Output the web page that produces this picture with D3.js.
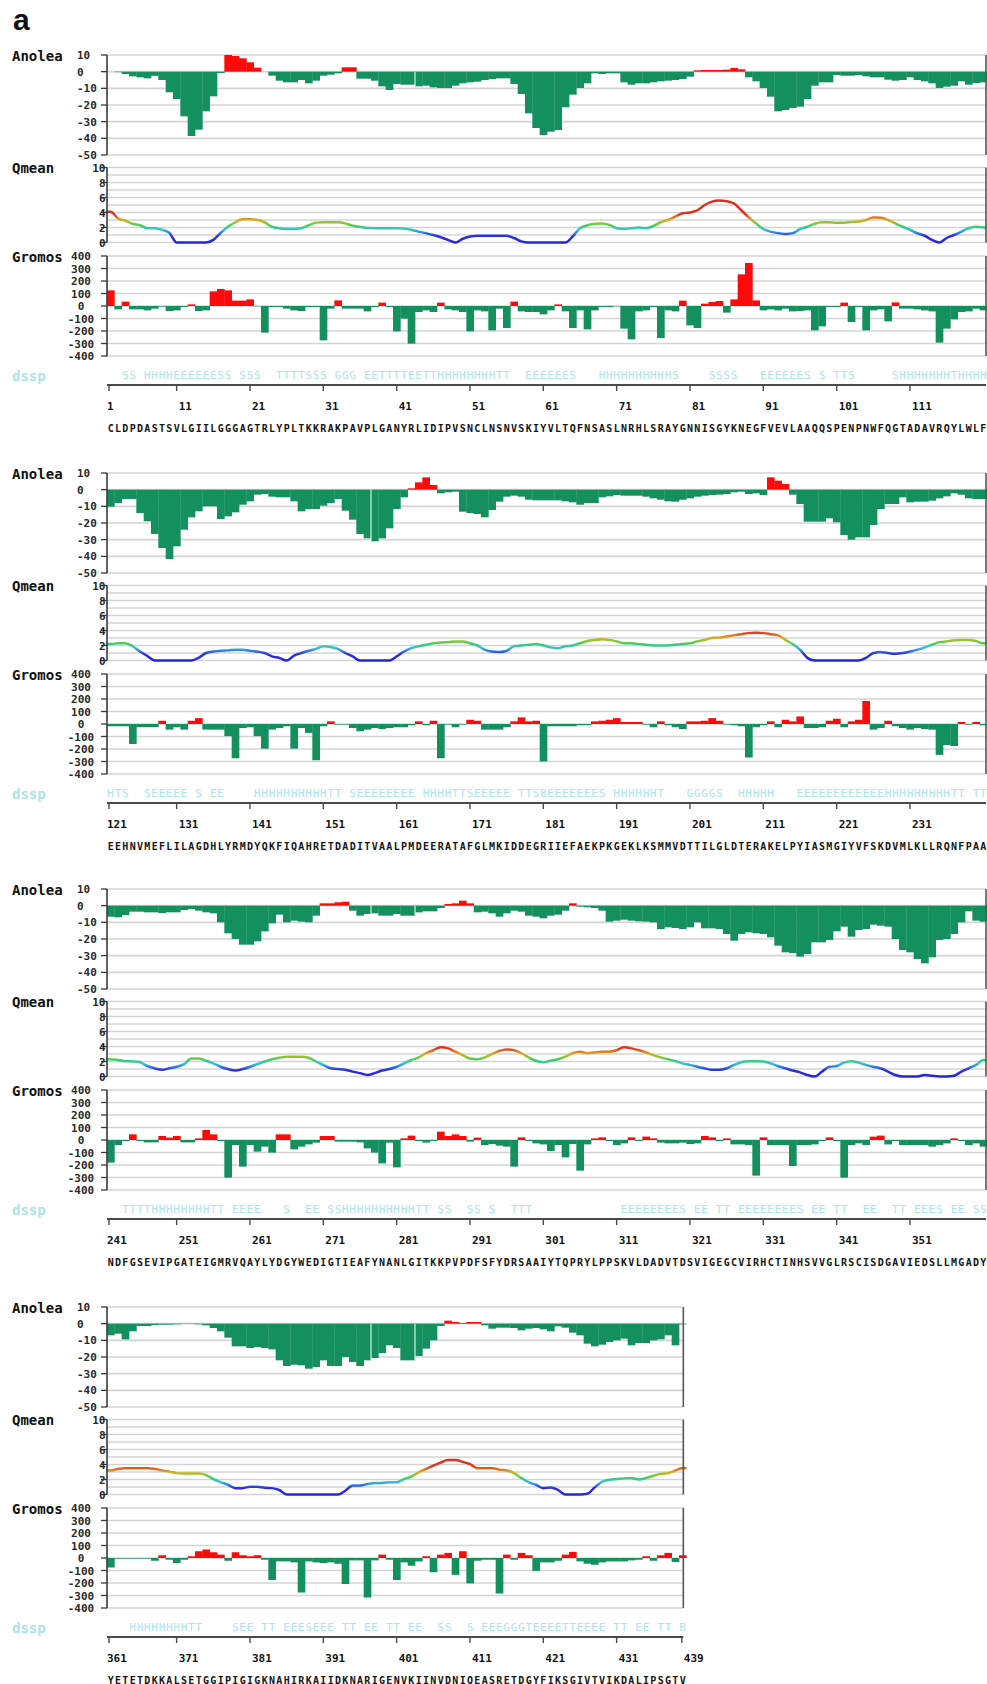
<!DOCTYPE html>
<html><head><meta charset="utf-8">
<script src="https://cdn.jsdelivr.net/npm/d3@7/dist/d3.min.js"></script>
<style>body{margin:0;background:#fff}svg{display:block}</style>
</head><body>
<svg id="c" width="987" height="1684"></svg>
<script>
// ---------------- DATA ----------------
const sequenceRows = [
  "CLDPDASTSVLGIILGGGAGTRLYPLTKKRAKPAVPLGANYRLIDIPVSNCLNSNVSKIYVLTQFNSASLNRHLSRAYGNNISGYKNEGFVEVLAAQQSPENPNWFQGTADAVRQYLWLF",
  "EEHNVMEFLILAGDHLYRMDYQKFIQAHRETDADITVAALPMDEERATAFGLMKIDDEGRIIEFAEKPKGEKLKSMMVDTTILGLDTERAKELPYIASMGIYVFSKDVMLKLLRQNFPAA",
  "NDFGSEVIPGATEIGMRVQAYLYDGYWEDIGTIEAFYNANLGITKKPVPDFSFYDRSAAIYTQPRYLPPSKVLDADVTDSVIGEGCVIRHCTINHSVVGLRSCISDGAVIEDSLLMGADY",
  "YETETDKKALSETGGIPIGIGKNAHIRKAIIDKNARIGENVKIINVDNIQEASRETDGYFIKSGIVTVIKDALIPSGTV"
];
const firstResidue = [1, 121, 241, 361];

// Anolea energy per residue (1-439)
const anolea = [
  // 1-120
  0,-0.3,-1.4,-2.8,-3.4,-4,-2.5,-5,-12.4,-16.4,
  -26.8,-38.6,-34.8,-23.8,-14.8,-0.8,10,9.4,8,5.6,
  2.4,0,-2.4,-5.4,-6.4,-6.4,-5,-7,-5.4,-2.4,
  -1.8,-1,2.6,2.6,-4.2,-4.2,-5.4,-8.8,-11,-7.4,
  -7.8,-7.8,-8.8,-8.4,-9.4,-9.8,-9.8,-8.4,-7,-6.4,
  -6,-5,-4.4,-4,-4,-7.4,-13.4,-25,-33.8,-38,
  -36,-35,-21.4,-13.8,-9.8,-7,-1,-1.4,-1,-1,
  -6.4,-7.8,-7,-7,-6.4,-5.8,-5.4,-5,-4.4,-3,
  0.8,1,1,1,1.2,2.2,1.4,-3.4,-5.8,-9.8,
  -15,-23.8,-23,-21.8,-21,-16.4,-8.4,-6.4,-6.4,-2,
  -2.4,-2.4,-2,-2.8,-3.4,-3.4,-4.8,-5.4,-5,-3.4,
  -5,-5.8,-7,-9.8,-9,-8.4,-5.8,-7.8,-6.8,-6.4,
  // 121-240
  -10.2,-8,-5.6,-5.6,-14,-19,-26.6,-35,-41.6,-34,
  -24,-16.6,-13,-10,-10,-17.6,-16,-13.6,-9,-7,
  -3,-2.6,-4.2,-4.6,-4.6,-7,-13,-11.6,-11.6,-9.6,
  -8,-5.6,-12.6,-18,-26.6,-29.2,-31,-29.2,-23.2,-11.6,
  -4.6,0.8,4.4,7.4,2.8,-2.2,-1.6,-1.2,-13.2,-14,
  -14.6,-16.6,-12.2,-7.2,-4.2,-3.6,-4.2,-6,-6.4,-6.4,
  -6.4,-6.4,-7,-7.6,-9,-8,-8,-4.6,-4,-3.2,
  -3.6,-3.6,-3.6,-4.2,-5.2,-6,-7,-7.2,-6,-5.2,
  -4.2,-3.6,-3.2,-3,-2.6,-1.6,-1.2,-2.6,-2.2,-3.2,
  7.4,5.4,3.4,-3,-8.6,-19.2,-19.2,-19.2,-17.2,-19.6,
  -27.2,-30,-28.6,-28.6,-21.2,-11.6,-8.6,-8.6,-4.6,-7.6,
  -7.2,-7.2,-6.6,-5.2,-4,-2.2,-3,-5.2,-5.6,-5.6,
  // 241-360
  -6.6,-7,-5.6,-3.6,-3.6,-4,-4,-4.4,-4,-4,
  -2.6,-2,-3,-4,-4.6,-10,-16.6,-20,-23.4,-23.4,
  -21.4,-15.4,-10.6,-5.4,-10,-9,-9.6,-10,-6,1.4,
  1.4,2,2.4,-3,-6,-5,-4.6,-6,-6,-5,
  -6,-6,-4,-3.4,-3.4,-1.4,1,1.4,3,1.4,
  -4,-3.6,-4.6,-6.6,-4.6,-3,-3.6,-6,-6.6,-7.6,
  -6,-5.4,-3,1.4,-0.6,-1,-1.4,-3,-9.6,-9,
  -8.4,-9,-9.4,-9.6,-10,-14,-13,-13.4,-14,-13,
  -10,-13.6,-13.6,-14,-17,-21,-17,-16,-16.6,-17,
  -19,-24,-28,-28.4,-30.6,-29,-22,-22,-20.6,-15.4,
  -12.6,-18.6,-14.6,-14,-11.4,-12,-12.6,-20,-26.6,-28,
  -32,-34.6,-31,-20.6,-20,-17,-10,-3.4,-9,-9.6,
  // 361-439
  -7,-6,-9.4,-4.6,-1.4,-1.4,-0.8,-0.6,-0.6,-0.4,
  -0.2,-0.2,-0.4,-1,-2.6,-4.6,-8.4,-13.6,-13.6,-14.6,
  -14,-14.6,-15.4,-22,-25.4,-24.6,-25,-27,-26,-22,
  -25.4,-25.4,-20,-23,-25.4,-22,-20.6,-17.6,-13,-14.6,
  -22,-22,-19.4,-15,-10,-1.4,1.8,1,0.4,1,
  1,-1,-3,-2.4,-2.4,-2.6,-4,-3,-2.6,-3.4,
  -4.6,-1.6,-2.4,-5.4,-7,-12,-13.6,-12.6,-11,-10,
  -9,-13,-11.6,-11.6,-10,-9.4,-7,-13,-0.4
];

// Qmean local score per residue (1-439)
const qmean = [
  // 1-120
  4.1,3.2,2.9,2.5,2.3,1.9,1.9,1.7,1.3,0,
  0,0,0,0,0.35,1.3,2.1,2.7,3.1,3.1,
  3.0,2.7,2.1,1.9,1.8,1.8,1.9,2.3,2.65,2.7,
  2.7,2.7,2.55,2.25,2.1,1.95,1.9,1.9,1.9,1.9,
  1.85,1.7,1.45,1.25,1.0,0.7,0.35,0,0.5,0.8,
  0.9,0.9,0.9,0.9,0.9,0.6,0.15,0,0,0,
  0,0,0,0.8,1.9,2.3,2.5,2.55,2.35,1.9,
  1.8,1.9,2.0,1.9,2.2,2.7,3.0,3.45,3.9,4.0,
  4.3,5.0,5.45,5.6,5.5,5.2,4.3,3.35,2.55,1.8,
  1.45,1.25,1.15,1.25,1.8,2.1,2.5,2.7,2.7,2.65,
  2.65,2.75,2.8,3.0,3.35,3.3,3.0,2.55,2.1,1.7,
  1.25,0.9,0.35,0,0.6,1.0,1.45,1.9,2.1,2.0,
  // 121-240
  2.2,2.3,2.3,1.9,1.2,0.6,0,0,0,0,
  0,0,0.35,1.0,1.2,1.3,1.35,1.45,1.45,1.3,
  1.2,1.0,0.55,0.35,0,0.65,1.0,1.3,1.55,1.9,
  1.8,1.55,1.0,0.55,0,0,0,0,0,0.55,
  1.2,1.65,1.9,2.1,2.3,2.4,2.45,2.55,2.55,2.3,
  2.0,1.45,1.2,1.15,1.3,1.9,2.0,2.1,2.2,2.0,
  1.75,1.65,1.9,2.0,2.3,2.6,2.75,2.85,2.75,2.55,
  2.3,2.3,2.2,2.1,2.0,2.0,2.0,2.1,2.2,2.3,
  2.55,2.75,3.0,3.05,3.2,3.35,3.5,3.65,3.7,3.65,
  3.5,3.35,2.75,2.2,1.45,0.35,0,0,0,0,
  0,0,0,0.35,1.0,1.15,1.0,0.9,1.0,1.2,
  1.45,1.75,2.1,2.45,2.55,2.7,2.75,2.75,2.6,2.3,
  // 241-360
  2.3,2.2,2.05,2.0,1.9,1.4,1.1,0.9,1.1,1.3,
  1.65,2.4,2.4,2.1,1.75,1.3,1.0,0.8,1.0,1.3,
  1.65,2.0,2.3,2.5,2.65,2.65,2.65,2.5,2.0,1.55,
  1.1,1.0,0.9,0.65,0.45,0.2,0.45,0.8,1.0,1.3,
  1.75,2.2,2.55,3.1,3.5,3.9,3.75,3.3,2.85,2.4,
  2.3,2.55,3.0,3.4,3.6,3.5,3.1,2.55,2.1,1.9,
  2.1,2.3,2.65,3.1,3.3,3.1,3.2,3.3,3.3,3.5,
  3.9,3.75,3.5,3.2,2.85,2.55,2.3,2.05,1.75,1.55,
  1.3,1.1,0.9,0.9,1.1,1.55,1.9,2.05,2.05,2.0,
  1.75,1.4,1.1,0.8,0.55,0.2,0,0.65,1.3,1.4,
  1.85,2.05,1.85,1.55,1.3,1.1,0.65,0.2,0,0,
  0,0.2,0.1,0,0,0.1,0.65,1.1,1.55,2.2,
  // 361-439
  3.2,3.4,3.5,3.5,3.5,3.5,3.4,3.2,3.05,2.85,
  2.8,2.8,2.8,2.6,2.05,1.65,1.3,0.85,0.85,1.05,
  1.05,0.9,0.85,0.6,0,0,0,0,0,0,
  0,0,0.5,1.2,1.2,1.4,1.55,1.55,1.65,1.65,
  2.05,2.4,2.95,3.4,3.85,4.25,4.6,4.6,4.35,4.05,
  3.5,3.5,3.5,3.3,3.2,2.85,2.2,1.65,1.3,0.85,
  0.95,0.6,0,0,0,0.1,0.95,1.7,1.95,2.05,
  2.15,2.2,2.0,2.2,2.5,2.75,2.85,3.2,3.5
];

// Gromos energy per residue (1-439)
const gromos = [
  // 1-120
  125,-27,35,-27,-27,-35,-21,-5,-40,-35,
  -8,13,-40,-35,117,136,125,43,43,53,
  -3,-213,-8,-8,-21,-35,-40,-8,-8,-275,
  -21,45,-21,-21,-21,-43,-8,27,-8,-203,
  -101,-301,-48,-35,-48,27,-27,-35,-48,-203,
  -35,-43,-195,-21,-176,35,-43,-48,-48,-67,
  -35,13,-43,-176,-35,-187,-35,-8,-8,-3,
  -181,-267,-43,-35,-8,-256,-35,-43,43,-155,
  -176,19,32,40,-53,53,253,344,45,-35,
  -27,-35,-21,-43,-40,-35,-195,-163,-8,-8,
  27,-128,-8,-195,-35,-27,-123,29,-21,-21,
  -27,-35,-43,-293,-181,-107,-48,-43,-21,-35,
  // 121-240
  -18,-18,-18,-160,-25,-25,-25,26,-45,-26,
  -45,26,47,-45,-45,-45,-97,-274,-32,-26,
  -97,-197,-45,-32,-18,-197,-32,-71,-290,-18,
  21,-5,-5,-32,-58,-45,-32,-40,-32,-26,
  -26,-10,21,-10,26,-274,-5,-26,-5,34,
  26,-45,-45,-45,-26,21,53,21,26,-300,
  -18,-18,-18,-18,-10,-10,21,26,34,47,
  16,16,16,-5,-26,21,-10,-26,-40,21,
  21,26,47,26,-5,-10,-18,-268,-26,-10,
  21,-26,34,21,60,-32,-32,-26,26,42,
  -26,21,34,184,-45,-32,26,-18,-32,-45,
  -32,-40,-45,-247,-168,-176,16,-5,16,-10,
  // 241-360
  -181,-40,-8,45,-8,-19,-19,32,19,32,
  -19,-19,13,80,45,-8,-301,-40,-213,-40,
  -93,-53,-101,45,45,-75,-53,-35,-21,32,
  32,-13,-13,-13,-19,-67,-101,-187,-21,-219,
  13,35,-8,-21,-8,67,32,45,32,-13,
  19,-40,-32,-45,-53,-213,21,-8,-27,-35,
  -88,-40,-139,-32,-245,-35,13,21,-8,-40,
  -27,21,-8,27,13,-21,-27,-27,-21,-32,
  -27,32,21,-8,13,-35,-35,-40,-285,21,
  -40,-40,-40,-208,-40,-40,-35,-8,21,-8,
  -301,-40,-27,-40,27,35,-35,-8,-40,-40,
  -40,-40,-53,-40,-27,13,-8,-40,-27,-53,
  // 361-439
  -76,-5,-5,-5,-5,-5,-22,22,-14,-40,
  -14,14,54,68,46,27,-22,46,22,14,
  22,-14,-176,-27,-27,-35,-276,-27,-35,-40,
  -35,-46,-208,-19,-19,-316,-19,27,-14,-176,
  -35,-62,-27,14,-114,27,41,-135,54,-203,
  -22,-14,-14,-284,27,-14,41,22,-103,-35,
  -35,-22,27,49,-27,-46,-54,-35,-27,-27,
  -27,-19,-14,14,-22,22,41,-32,22
];

// DSSP secondary structure: [first residue, characters]
const dsspSegments = [
  [3,"SS"],[6,"HHHHEEEEEESS"],[19,"SSS"],[24,"TTTTSSS"],[32,"GGG"],[36,"EETTTTEETT"],
  [46,"HHHHHHHHTT"],[58,"EEEEEES"],[68,"HHHHHHHHHHS"],[83,"SSSS"],[90,"EEEEEES"],[98,"S"],
  [100,"TTS"],[108,"SHHHHHHHTHHHH"],
  [121,"HTS"],[126,"SEEEEE"],[133,"S"],[135,"EE"],[141,"HHHHHHHHHHTT"],[154,"SEEEEEEEE"],
  [164,"HHHHTTSEEEEE"],[177,"TTSBEEEEEEES"],[190,"HHHHHHT"],[200,"GGGGS"],[207,"HHHHH"],
  [215,"EEEEEEEEEEEEHHHHHHHHHTT"],[239,"TT"],
  [243,"TTTTHHHHHHHHTT"],[258,"EEEE"],[265,"S"],[268,"EE"],[271,"SSHHHHHHHHHHTT"],[286,"SS"],
  [290,"SS"],[293,"S"],[296,"TTT"],[311,"EEEEEEEES"],[321,"EE"],[324,"TT"],[327,"EEEEEEEES"],
  [337,"EE"],[340,"TT"],[344,"EE"],[348,"TT"],[351,"EEES"],[356,"EE"],[359,"SS"],
  [364,"HHHHHHHHTT"],[378,"SEE"],[382,"TT"],[385,"EEESEEE"],[393,"TT"],[396,"EE"],[399,"TT"],
  [402,"EE"],[406,"SS"],[410,"S"],[412,"EEEGGGTEEEETTEEEE"],[430,"TT"],[433,"EE"],[436,"TT"],[439,"B"]
];

// residues after which the anolea bars show a thin white break
const anoleaBreaks = [42, 156, 276, 282, 396, 402];

const anoleaTicks = [10, 0, -10, -20, -30, -40, -50];
const qmeanTicks = [10, 8, 6, 4, 2, 0];
const qmeanGrid = [10, 9, 8, 7, 6, 5, 4, 3, 2, 1, 0];
const gromosTicks = [400, 300, 200, 100, 0, -100, -200, -300, -400];
const rowLabels = ["Anolea", "Qmean", "Gromos", "dssp"];
const panelLetter = "a";

// Qmean colour ramp (value -> colour)
const qmeanColorStops = [
  [0, "#2626d6"], [0.9, "#2f2fe0"], [1.3, "#2f80e2"], [1.7, "#30c6da"], [2.1, "#31cc82"],
  [2.6, "#84cc2e"], [3.0, "#d8ae22"], [3.4, "#e06e20"], [3.8, "#e03222"], [10, "#d82020"]
];

// ---------------- DRAWING ----------------
const svg = d3.select("#c");
svg.append("rect").attr("width", 987).attr("height", 1684).attr("fill", "#fff");

const X0 = 107, PLOT_W = 880, PER_ROW = 120;
const TOPS = [55, 473, 889, 1307];
const GREEN = "#14905f", RED = "#ff0a0a", GRID = "#d4d4d4", AXIS = "#3a3a3a";
const DSSP_COLOR = "#ade3eb";
const MONO = "'DejaVu Sans Mono', 'Liberation Mono', monospace";

svg.append("text").attr("x", 13).attr("y", 30)
  .attr("font-family", "'Liberation Sans', Arial, sans-serif").attr("font-weight", "bold")
  .attr("font-size", 30).attr("fill", "#111").text(panelLetter);

const dsspMap = {};
dsspSegments.forEach(([s, str]) => [...str].forEach((c, k) => { if (c !== " ") dsspMap[s + k] = c; }));

sequenceRows.forEach((seq, p) => {
  const first = firstResidue[p];
  const n = seq.length;
  const last = first + n - 1;
  const T = TOPS[p];
  const partial = n < PER_ROW;
  const g = svg.append("g");

  const x = d3.scaleLinear().domain([first, first + PER_ROW]).range([X0, X0 + PLOT_W]);
  const xEnd = x(last + 1) - (partial ? 3 : 1);
  const residues = d3.range(first, last + 1);

  const yA = d3.scaleLinear().domain([10, -50]).range([T, T + 100]);
  const yQ = d3.scaleLinear().domain([10, 0]).range([T + 112.5, T + 187.5]);
  const yG = d3.scaleLinear().domain([400, -400]).range([T + 201, T + 301]);

  // grid lines
  const grid = (vals, y) => g.append("g").selectAll("line").data(vals).join("line")
    .attr("x1", X0).attr("x2", xEnd).attr("y1", d => y(d)).attr("y2", d => y(d))
    .attr("stroke", GRID).attr("stroke-width", 1.6);
  grid(anoleaTicks, yA);
  grid(qmeanGrid, yQ);
  grid(gromosTicks, yG);

  // bars
  const bars = (vals, y) => g.append("g").selectAll("rect").data(residues).join("rect")
    .attr("x", i => x(i)).attr("width", i => x(i + 1) - x(i) + 0.35)
    .attr("y", i => Math.min(y(0), y(vals[i - 1])))
    .attr("height", i => Math.abs(y(vals[i - 1]) - y(0)))
    .attr("fill", i => vals[i - 1] > 0 ? RED : GREEN);
  bars(anolea, yA);
  bars(gromos, yG);

  // white breaks in anolea bars
  anoleaBreaks.filter(b => b >= first && b < last).forEach(b => {
    g.append("line").attr("x1", x(b + 1)).attr("x2", x(b + 1))
      .attr("y1", yA(0)).attr("y2", yA(Math.min(anolea[b - 1], anolea[b], 0)))
      .attr("stroke", "#fff").attr("stroke-width", 1);
  });

  // qmean line with value-based gradient
  const gid = "qgrad" + p;
  const grad = svg.append("defs").append("linearGradient").attr("id", gid)
    .attr("gradientUnits", "userSpaceOnUse")
    .attr("x1", 0).attr("x2", 0).attr("y1", yQ(0)).attr("y2", yQ(10));
  grad.selectAll("stop").data(qmeanColorStops).join("stop")
    .attr("offset", d => d[0] / 10).attr("stop-color", d => d[1]);
  const pts = residues.map(i => [x(i + 0.5), yQ(qmean[i - 1])]);
  pts.unshift([x(first), yQ(qmean[first - 1])]);
  pts.push([x(last + 1) - 1, yQ(qmean[last - 1])]);
  g.append("path").attr("d", d3.line().curve(d3.curveMonotoneX)(pts))
    .attr("fill", "none").attr("stroke", `url(#${gid})`).attr("stroke-width", 2.5)
    .attr("stroke-linejoin", "round").attr("stroke-linecap", "round");

  // left axes, right borders, ticks
  const sub = [[yA, 10, -50, anoleaTicks], [yQ, 10, 0, qmeanTicks], [yG, 400, -400, gromosTicks]];
  sub.forEach(([y, top, bot, ticks]) => {
    g.append("line").attr("x1", X0).attr("x2", X0).attr("y1", y(top)).attr("y2", y(bot))
      .attr("stroke", AXIS).attr("stroke-width", 1.6);
    g.append("line").attr("x1", xEnd).attr("x2", xEnd).attr("y1", y(top)).attr("y2", y(bot))
      .attr("stroke", "#555").attr("stroke-width", 1.6);
    g.append("g").selectAll("line").data(ticks).join("line")
      .attr("x1", X0 - 6).attr("x2", X0).attr("y1", d => y(d)).attr("y2", d => y(d))
      .attr("stroke", AXIS).attr("stroke-width", 1.3);
  });

  const tickText = (ticks, y, xPos, anchor) => g.append("g").selectAll("text").data(ticks).join("text")
    .attr("x", xPos).attr("y", d => y(d) + 4).attr("text-anchor", anchor)
    .attr("font-family", MONO).attr("font-weight", "bold").attr("font-size", 11)
    .attr("fill", "#2a2a2a").text(d => d);
  tickText(anoleaTicks, yA, 77, "start");
  tickText(qmeanTicks, yQ, 105.5, "end");
  tickText(gromosTicks, yG, 81, "middle");

  // row labels
  const labY = [T + 6, T + 118, T + 206.5, T + 326];
  rowLabels.forEach((lab, k) => {
    g.append("text").attr("x", 12).attr("y", labY[k])
      .attr("font-family", MONO).attr("font-weight", "bold").attr("font-size", 14)
      .attr("fill", k === 3 ? DSSP_COLOR : "#111").text(lab);
  });

  // dssp characters
  g.append("g").selectAll("text").data(residues.filter(i => dsspMap[i])).join("text")
    .attr("x", i => x(i + 0.5)).attr("y", T + 324).attr("text-anchor", "middle")
    .attr("font-family", MONO).attr("font-size", 11).attr("fill", DSSP_COLOR)
    .text(i => dsspMap[i]);

  // residue axis
  g.append("line").attr("x1", X0).attr("x2", xEnd).attr("y1", T + 330).attr("y2", T + 330)
    .attr("stroke", "#4a4a4a").attr("stroke-width", 2);
  const tickRes = d3.range(first, last + 1, 10);
  if (partial && tickRes[tickRes.length - 1] !== last) tickRes.push(last);
  const tx = i => i === first ? x(first) + 2 : (partial && i === last ? x(last + 1) - 4.5 : x(i) - 3.7);
  g.append("g").selectAll("line").data(tickRes).join("line")
    .attr("x1", tx).attr("x2", tx).attr("y1", T + 330).attr("y2", T + 336)
    .attr("stroke", "#4a4a4a").attr("stroke-width", 1.4);
  g.append("g").selectAll("text").data(tickRes).join("text")
    .attr("x", i => i === first ? X0 : tx(i) + 2).attr("y", T + 355)
    .attr("font-family", MONO).attr("font-weight", "bold").attr("font-size", 11)
    .attr("fill", "#111").text(i => i);

  // sequence
  g.append("g").selectAll("text").data(residues).join("text")
    .attr("x", i => x(i + 0.5)).attr("y", T + 377).attr("text-anchor", "middle")
    .attr("font-family", MONO).attr("font-weight", "bold").attr("font-size", 10)
    .attr("fill", "#151515").text(i => seq[i - first]);
});
</script>
</body></html>
